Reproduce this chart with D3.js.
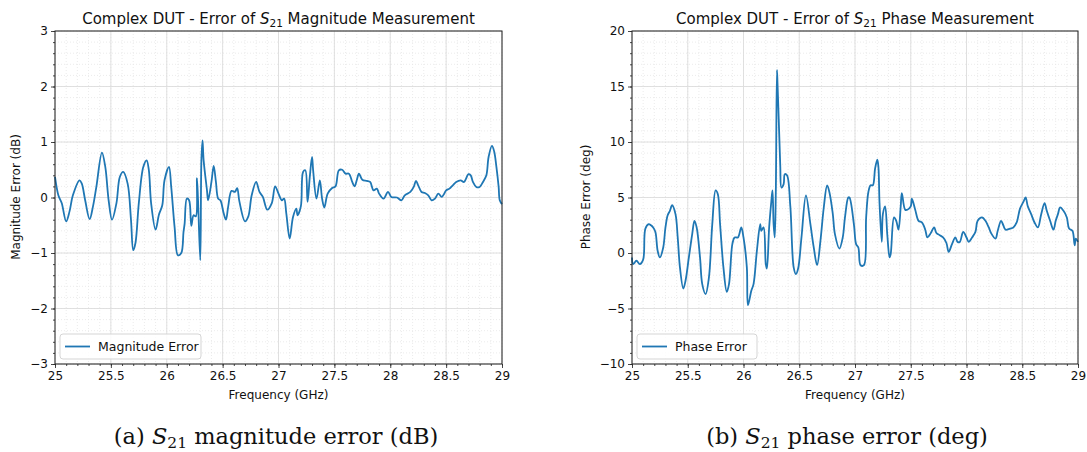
<!DOCTYPE html>
<html><head><meta charset="utf-8">
<script src="https://cdn.jsdelivr.net/npm/d3@7"></script>
<style>
body{margin:0;background:#fff;}
svg{display:block;}
</style></head>
<body><svg id="c" width="1087" height="452"></svg>
<script>
// ---------- DATA ----------
const magFreq = [25.0,25.03,25.06,25.1,25.13,25.16,25.22,25.24,25.27,25.31,25.34,25.37,25.42,25.45,25.48,25.51,25.55,25.58,25.61,25.65,25.68,25.70,25.72,25.75,25.79,25.82,25.84,25.86,25.90,25.93,25.96,25.98,26.02,26.04,26.07,26.10,26.13,26.15,26.16,26.18,26.20,26.22,26.24,26.26,26.27,26.28,26.30,26.31,26.32,26.33,26.36,26.37,26.40,26.42,26.44,26.46,26.48,26.51,26.53,26.55,26.58,26.61,26.63,26.65,26.70,26.73,26.76,26.80,26.83,26.86,26.90,26.94,26.97,27.0,27.03,27.05,27.07,27.10,27.13,27.16,27.17,27.2,27.22,27.24,27.26,27.28,27.30,27.31,27.34,27.37,27.39,27.41,27.44,27.48,27.51,27.54,27.57,27.60,27.63,27.66,27.68,27.70,27.72,27.75,27.79,27.82,27.85,27.88,27.90,27.94,27.98,28.01,28.06,28.10,28.13,28.18,28.21,28.23,28.25,28.28,28.31,28.34,28.37,28.40,28.43,28.46,28.48,28.50,28.53,28.56,28.59,28.63,28.66,28.70,28.72,28.74,28.77,28.80,28.83,28.86,28.88,28.91,28.93,28.95,28.97,28.98,29.0];
const magErr = [0.37,0.04,-0.1,-0.43,-0.25,0.04,0.31,0.25,-0.05,-0.39,-0.16,0.19,0.81,0.55,-0.05,-0.4,-0.1,0.37,0.46,0.25,-0.4,-0.95,-0.82,-0.1,0.55,0.67,0.49,-0.1,-0.58,-0.31,-0.14,0.31,0.55,0.19,-0.53,-1.04,-1.0,-0.62,-0.47,-0.02,-0.05,-0.51,-0.32,-0.34,0.35,-0.05,-1.13,0.67,1.03,0.67,0.13,-0.05,0.28,0.57,0.28,-0.02,-0.05,-0.29,-0.4,-0.16,0.12,0.1,0.17,-0.07,-0.43,-0.34,0.04,0.28,0.1,0.01,-0.22,-0.1,0.2,0.07,-0.05,-0.02,-0.29,-0.74,-0.35,-0.2,-0.32,-0.16,0.46,0.49,-0.08,0.37,0.73,0.49,-0.02,0.31,-0.02,-0.18,0.07,0.17,0.2,0.49,0.5,0.43,0.43,0.28,0.2,0.31,0.43,0.32,0.3,0.28,0.13,0.16,0.07,-0.02,0.1,0.01,0.0,-0.05,0.04,0.1,0.19,0.3,0.22,0.1,0.08,0.04,-0.05,-0.02,0.07,0.01,0.06,0.13,0.16,0.22,0.28,0.31,0.28,0.42,0.4,0.28,0.19,0.19,0.28,0.4,0.73,0.93,0.83,0.55,0.19,-0.05,-0.12];

const phaseFreq = [25.0,25.01,25.04,25.07,25.10,25.12,25.15,25.17,25.19,25.21,25.23,25.25,25.28,25.30,25.32,25.34,25.36,25.39,25.41,25.43,25.46,25.48,25.51,25.54,25.56,25.58,25.61,25.63,25.66,25.69,25.72,25.75,25.77,25.79,25.82,25.85,25.87,25.90,25.92,25.95,25.98,26.00,26.03,26.04,26.07,26.09,26.12,26.15,26.16,26.18,26.20,26.21,26.23,26.25,26.26,26.27,26.28,26.29,26.30,26.305,26.32,26.33,26.34,26.36,26.37,26.39,26.42,26.45,26.47,26.49,26.52,26.56,26.60,26.63,26.66,26.69,26.72,26.75,26.77,26.80,26.82,26.86,26.89,26.91,26.94,26.95,26.99,27.01,27.03,27.05,27.08,27.10,27.12,27.14,27.16,27.18,27.20,27.21,27.22,27.24,27.25,27.27,27.29,27.31,27.32,27.35,27.37,27.39,27.41,27.42,27.45,27.47,27.50,27.51,27.54,27.57,27.60,27.63,27.65,27.68,27.71,27.73,27.76,27.79,27.82,27.84,27.87,27.90,27.92,27.94,27.97,28.0,28.02,28.05,28.08,28.10,28.14,28.17,28.20,28.22,28.26,28.28,28.31,28.33,28.35,28.39,28.42,28.45,28.48,28.51,28.53,28.55,28.58,28.61,28.64,28.67,28.70,28.72,28.75,28.78,28.80,28.82,28.84,28.87,28.90,28.92,28.95,28.97,28.98,29.0];
const phaseErr = [-0.4,-1.0,-0.7,-1.0,-0.6,2.2,2.6,2.5,2.3,1.9,0.2,-0.4,0.5,2.3,3.4,3.8,4.3,3.5,1.4,-1.3,-3.2,-2.5,-0.4,1.7,2.9,2.3,-0.4,-2.8,-3.7,-2.2,2.6,5.65,5.3,2.6,-1.3,-3.5,-2.8,0.8,1.4,1.4,2.3,1.4,-1.3,-4.7,-3.4,-2.8,0.2,2.6,2.0,2.3,-1.0,-1.4,2.3,4.7,5.65,2.6,1.4,5.65,16.5,15.3,10.8,7.75,5.9,6.2,7.1,7.0,4.2,-1.3,-1.9,-1.4,1.4,5.2,2.6,0.5,-1.1,1.1,4.1,6.1,5.5,3.6,1.7,0.4,1.4,3.2,5.0,5.0,2.6,0.8,0.5,-1.1,-1.1,3.2,5.5,6.1,6.1,7.6,8.4,7.75,4.5,1.0,3.5,4.2,1.6,-0.4,-0.1,3.2,2.9,2.1,4.2,5.4,3.9,3.9,4.2,4.9,3.9,2.9,2.75,2.1,1.4,1.8,2.3,1.8,1.6,1.4,0.9,0.1,0.8,1.4,1.0,1.0,1.9,1.4,1.0,1.4,1.9,2.9,3.2,2.9,2.3,1.8,1.3,2.0,2.9,2.5,2.1,2.2,2.3,2.75,4.0,4.6,5.0,4.2,3.5,2.75,2.3,3.5,4.5,3.8,2.9,2.1,2.9,3.5,4.1,3.8,3.2,2.2,2.0,0.7,1.3,1.0];

const xTicks = [25,25.5,26,26.5,27,27.5,28,28.5,29];
const xTickLabels = ["25","25.5","26","26.5","27","27.5","28","28.5","29"];
const magTicks = [-3,-2,-1,0,1,2,3];
const phaseTicks = [-10,-5,0,5,10,15,20];

// ---------- DRAW ----------
const svg = d3.select("#c");
const FONT = "DejaVu Sans, sans-serif";
const color = "#1f77b4";

function panel(cfg){
  const g = svg.append("g");
  const x = d3.scaleLinear().domain([25,29]).range([cfg.left, cfg.right]);
  const y = d3.scaleLinear().domain(cfg.ydomain).range([364, 31]);

  // minor grid
  const xMinor = d3.range(250,291,1).map(v=>v/10);
  const yMinor = d3.range(cfg.ydomain[0], cfg.ydomain[1]+1e-9, cfg.yMinorStep);
  g.append("g").selectAll("line").data(xMinor).join("line")
    .attr("x1",d=>x(d)).attr("x2",d=>x(d)).attr("y1",31).attr("y2",364)
    .attr("stroke","#e6e6e6").attr("stroke-width",0.8).attr("stroke-dasharray","1,2");
  g.append("g").selectAll("line").data(yMinor).join("line")
    .attr("y1",d=>y(d)).attr("y2",d=>y(d)).attr("x1",cfg.left).attr("x2",cfg.right)
    .attr("stroke","#e6e6e6").attr("stroke-width",0.8).attr("stroke-dasharray","1,2");
  // major grid
  g.append("g").selectAll("line").data(xTicks).join("line")
    .attr("x1",d=>x(d)).attr("x2",d=>x(d)).attr("y1",31).attr("y2",364)
    .attr("stroke","#dcdcdc").attr("stroke-width",0.9);
  g.append("g").selectAll("line").data(cfg.yticks).join("line")
    .attr("y1",d=>y(d)).attr("y2",d=>y(d)).attr("x1",cfg.left).attr("x2",cfg.right)
    .attr("stroke","#dcdcdc").attr("stroke-width",0.9);

  // line
  const pts = cfg.xs.map((f,i)=>[f,cfg.ys[i]]);
  g.append("path").datum(pts)
    .attr("d", d3.line().x(d=>x(d[0])).y(d=>y(d[1])).curve(d3.curveCatmullRom.alpha(0.5)))
    .attr("fill","none").attr("stroke",color).attr("stroke-width",1.8).attr("stroke-linejoin","round");

  // axes
  const fmt = d=> (d<0? "\u2212"+Math.abs(d) : String(d));
  const xa = g.append("g").attr("transform",`translate(0,364)`)
    .call(d3.axisBottom(x).tickValues(xTicks).tickFormat((d,i)=>xTickLabels[i]).tickSize(4).tickPadding(3));
  const xm = g.append("g").attr("transform",`translate(0,364)`)
    .call(d3.axisBottom(x).tickValues(xMinor).tickFormat("").tickSize(2));
  const ya = g.append("g").attr("transform",`translate(${cfg.left},0)`)
    .call(d3.axisLeft(y).tickValues(cfg.yticks).tickFormat(fmt).tickSize(4).tickPadding(3));
  const ym = g.append("g").attr("transform",`translate(${cfg.left},0)`)
    .call(d3.axisLeft(y).tickValues(yMinor).tickFormat("").tickSize(2));
  [xa,xm,ya,ym].forEach(a=>{
    a.select(".domain").remove();
    a.selectAll("line").attr("stroke","#333").attr("stroke-width",0.9);
    a.selectAll("text").attr("font-family",FONT).attr("font-size",12).attr("fill","#111");
  });
  // frame
  g.append("rect").attr("x",cfg.left).attr("y",31).attr("width",cfg.right-cfg.left).attr("height",333)
    .attr("fill","none").attr("stroke","#222").attr("stroke-width",1);

  // title
  const t = g.append("text").attr("x",(cfg.left+cfg.right)/2).attr("y",23.5)
    .attr("text-anchor","middle").attr("font-family",FONT).attr("font-size",15).attr("fill","#111");
  t.append("tspan").text("Complex DUT - Error of ");
  t.append("tspan").attr("font-style","italic").text("S");
  t.append("tspan").attr("font-size",10.5).attr("dy",3).text("21");
  t.append("tspan").attr("dy",-3).text(" "+cfg.titleTail);

  // axis labels
  g.append("text").attr("x",(cfg.left+cfg.right)/2).attr("y",399).attr("text-anchor","middle")
    .attr("font-family",FONT).attr("font-size",12).attr("fill","#111").text("Frequency (GHz)");
  g.append("text").attr("transform",`translate(${cfg.ylabelX},${197}) rotate(-90)`).attr("text-anchor","middle")
    .attr("font-family",FONT).attr("font-size",12).attr("fill","#111").text(cfg.ylabel);

  // legend
  const lg = g.append("g").attr("transform",`translate(${cfg.left+5},334)`);
  lg.append("rect").attr("width",cfg.legendW).attr("height",25).attr("rx",3)
    .attr("fill","#fff").attr("fill-opacity",0.85).attr("stroke","#d0d0d0").attr("stroke-width",0.9);
  lg.append("line").attr("x1",5).attr("x2",30).attr("y1",12.5).attr("y2",12.5).attr("stroke",color).attr("stroke-width",1.8);
  lg.append("text").attr("x",38).attr("y",17).attr("font-family",FONT).attr("font-size",12.5).attr("fill","#111").text(cfg.legend);

  // caption
  const c = g.append("text").attr("x",cfg.capX).attr("y",444).attr("text-anchor","middle")
    .attr("font-family","DejaVu Serif, serif").attr("font-size",22.5).attr("fill","#111");
  c.append("tspan").text(cfg.capPre+" ");
  c.append("tspan").attr("font-style","italic").text("S");
  c.append("tspan").attr("font-size",15.5).attr("dy",4).text("21");
  c.append("tspan").attr("dy",-4).text(" "+cfg.capTail);
}

panel({left:55,right:502,ydomain:[-3,3],yticks:magTicks,yMinorStep:0.2,xs:magFreq,ys:magErr,
  titleTail:"Magnitude Measurement",ylabel:"Magnitude Error (dB)",ylabelX:20,legend:"Magnitude Error",legendW:141,
  capX:276,capPre:"(a)",capTail:"magnitude error (dB)"});
panel({left:632,right:1078,ydomain:[-10,20],yticks:phaseTicks,yMinorStep:1,xs:phaseFreq,ys:phaseErr,
  titleTail:"Phase Measurement",ylabel:"Phase Error (deg)",ylabelX:590,legend:"Phase Error",legendW:120,
  capX:847,capPre:"(b)",capTail:"phase error (deg)"});
</script></body></html>
